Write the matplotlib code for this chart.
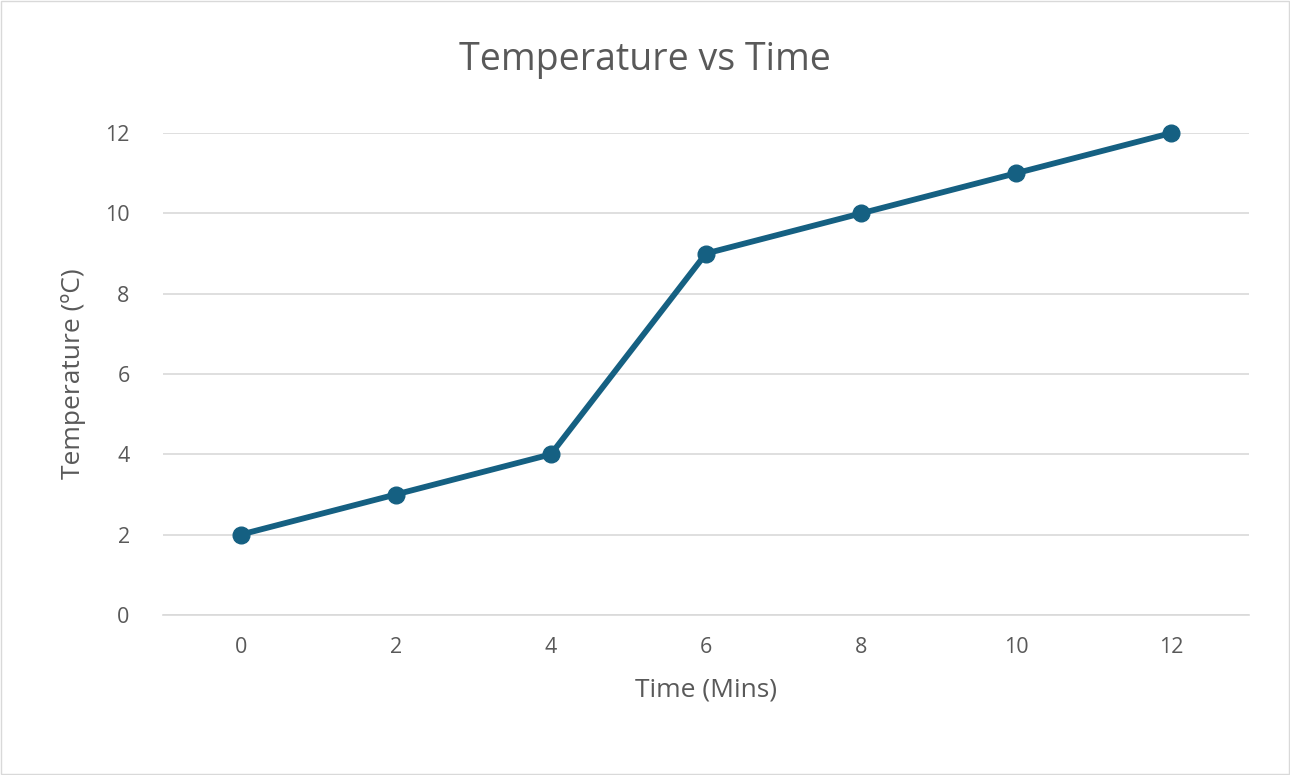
import matplotlib
matplotlib.use("Agg")
import matplotlib.pyplot as plt
from matplotlib.patches import Rectangle

time_labels = ["0", "2", "4", "6", "8", "10", "12"]
temperature = [2, 3, 4, 9, 10, 11, 12]

plt.rcParams['font.family'] = ['Open Sans', 'DejaVu Sans']
grey = "#595959"
fig = plt.figure(figsize=(12.9, 7.75), dpi=100)
fig.patches.append(Rectangle((0.001, 0.001), 0.998, 0.998, transform=fig.transFigure,
                             fill=False, edgecolor="#d9d9d9", linewidth=1))
ax = fig.add_axes([163/1290, 1-615/775, (1249-163)/1290, (615-133)/775])
x = list(range(len(time_labels)))
ax.plot(x, temperature, color="#156082", linewidth=4.2, marker="o", markersize=12,
        clip_on=False, zorder=3)
ax.set_xlim(-0.5, len(x)-0.5)
ax.set_ylim(0, 12)
ax.set_yticks(range(0, 13, 2))
ax.set_xticks(x)
ax.set_xticklabels(time_labels)
ax.grid(axis="y", color="#d9d9d9", linewidth=1.2)
ax.set_axisbelow(True)
for s in ["top", "right", "left"]:
    ax.spines[s].set_visible(False)
ax.spines["bottom"].set_color("#d9d9d9")
ax.spines["bottom"].set_linewidth(1.2)
ax.tick_params(length=0, labelsize=15.5, labelcolor=grey, pad=16)
ax.tick_params(axis="y", pad=24)
ax.set_xlabel("Time (Mins)", fontsize=19, color=grey, labelpad=14)
ax.set_ylabel("Temperature (ºC)", fontsize=19, color=grey, labelpad=14)
fig.text(0.5, 1-60/775, "Temperature vs Time", ha="center", va="center", fontsize=27, color=grey)
fig.savefig("out.png", dpi=100)
